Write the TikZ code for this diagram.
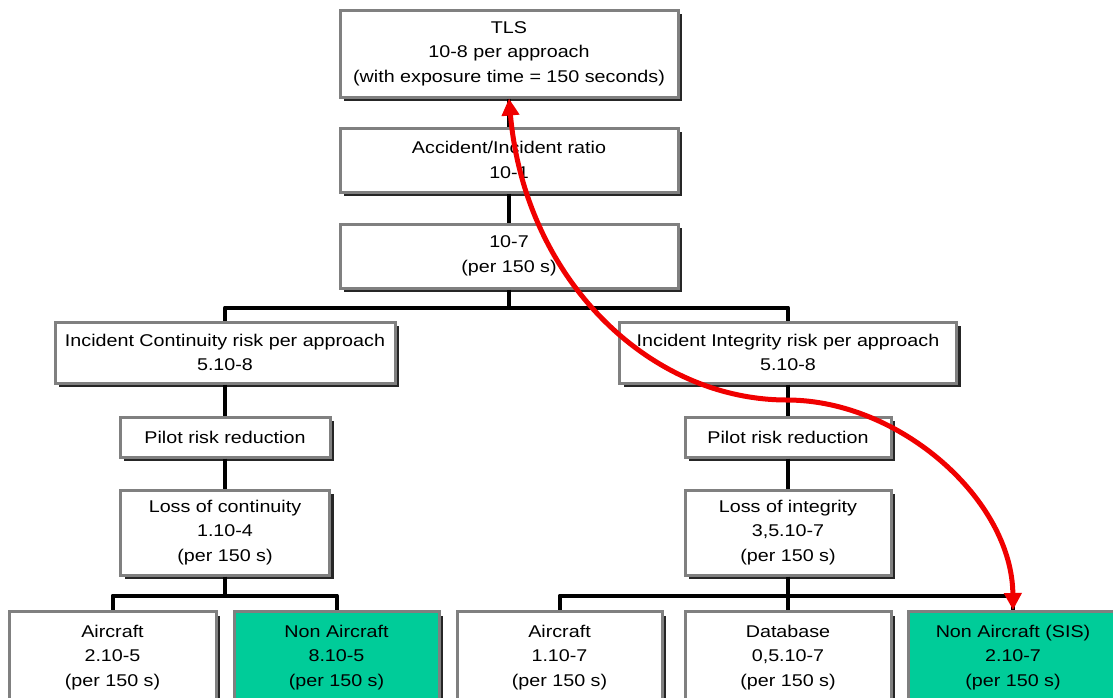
\documentclass[tikz,border=0pt]{standalone}
\usepackage{fontspec}
\setmainfont[FakeStretch=1.16]{Liberation Sans}
\usetikzlibrary{arrows.meta,shadows}
\definecolor{boxgray}{RGB}{128,128,128}
\definecolor{sisgreen}{RGB}{0,204,153}
\definecolor{arrowred}{RGB}{240,0,0}
\newcommand{\boxfont}{\fontsize{17}{24.5}\selectfont}
\tikzset{
  box/.style={draw=boxgray, line width=3pt, fill=white, inner sep=0pt,
    align=center, font=\boxfont,
    drop shadow={shadow xshift=4pt, shadow yshift=-4pt, fill=black!85, opacity=1}},
  greenbox/.style={box, fill=sisgreen},
  conn/.style={draw=black, line width=4pt, line join=round},
  redarrow/.style={draw=arrowred, line width=5pt,
    {Triangle[length=17pt,width=17pt]}-{Triangle[length=17pt,width=17pt]}}
}
\begin{document}
\begin{tikzpicture}[x=1pt,y=-1pt]
\useasboundingbox (0,0) rectangle (1113,697);
% nodes
\node[box, minimum width=338pt, minimum height=87pt] (tls) at (509,53.5)
  {TLS\\10-8 per approach\\(with exposure time = 150 seconds)};
\node[box, minimum width=338pt, minimum height=64pt] (acc) at (509,160)
  {Accident/Incident ratio\\10-1};
\node[box, minimum width=338pt, minimum height=64pt] (r7) at (509,256)
  {10-7\\(per 150 s)};
\node[box, minimum width=340pt, minimum height=61pt] (cont) at (225,352.5)
  {Incident Continuity risk per approach\\5.10-8};
\node[box, minimum width=337pt, minimum height=61pt] (integ) at (788,352.5)
  {Incident Integrity risk per approach\\5.10-8};
\node[box, minimum width=210pt, minimum height=40pt] (pilotL) at (225,437)
  {Pilot risk reduction};
\node[box, minimum width=206pt, minimum height=40pt] (pilotR) at (788,437)
  {Pilot risk reduction};
\node[box, minimum width=209pt, minimum height=85pt] (lossC) at (225,532.5)
  {Loss of continuity\\1.10-4\\(per 150 s)};
\node[box, minimum width=206pt, minimum height=85pt] (lossI) at (788,532.5)
  {Loss of integrity\\3,5.10-7\\(per 150 s)};
\node[box, anchor=north, minimum width=207pt, minimum height=92pt] (acL) at (112.5,610)
  {Aircraft\\2.10-5\\(per 150 s)};
\node[greenbox, anchor=north, minimum width=205pt, minimum height=92pt] (nacL) at (336.5,610)
  {Non Aircraft\\8.10-5\\(per 150 s)};
\node[box, anchor=north, minimum width=205pt, minimum height=92pt] (acR) at (559.5,610)
  {Aircraft\\1.10-7\\(per 150 s)};
\node[box, anchor=north, minimum width=206pt, minimum height=92pt] (db) at (788,610)
  {Database\\0,5.10-7\\(per 150 s)};
\node[greenbox, anchor=north, minimum width=210pt, minimum height=92pt] (sis) at (1013,610)
  {Non Aircraft (SIS)\\2.10-7\\(per 150 s)};
% connectors
\draw[conn] (tls) -- (acc);
\draw[conn] (acc) -- (r7);
\draw[conn] (r7.south) -- ++(0,18) coordinate (j1);
\draw[conn] (j1) -| (cont.north);
\draw[conn] (j1) -| (integ.north);
\draw[conn] (cont) -- (pilotL);
\draw[conn] (pilotL) -- (lossC);
\draw[conn] (integ) -- (pilotR);
\draw[conn] (pilotR) -- (lossI);
\draw[conn] (lossC.south) -- ++(0,19) coordinate (j2);
\draw[conn] (j2) -| (acL.north);
\draw[conn] (j2) -| (nacL.north);
\draw[conn] (lossI.south) -- ++(0,19) coordinate (j3);
\draw[conn] (j3) -| (acR.north);
\draw[conn] (j3) -- (db.north);
\draw[conn] (j3) -| (sis.north);
% red arrow
\draw[redarrow] (tls.south) .. controls (525,280) and (650,400) .. (787,400)
  .. controls (900,400) and (1012,500) .. (sis.north);
\end{tikzpicture}
\end{document}
